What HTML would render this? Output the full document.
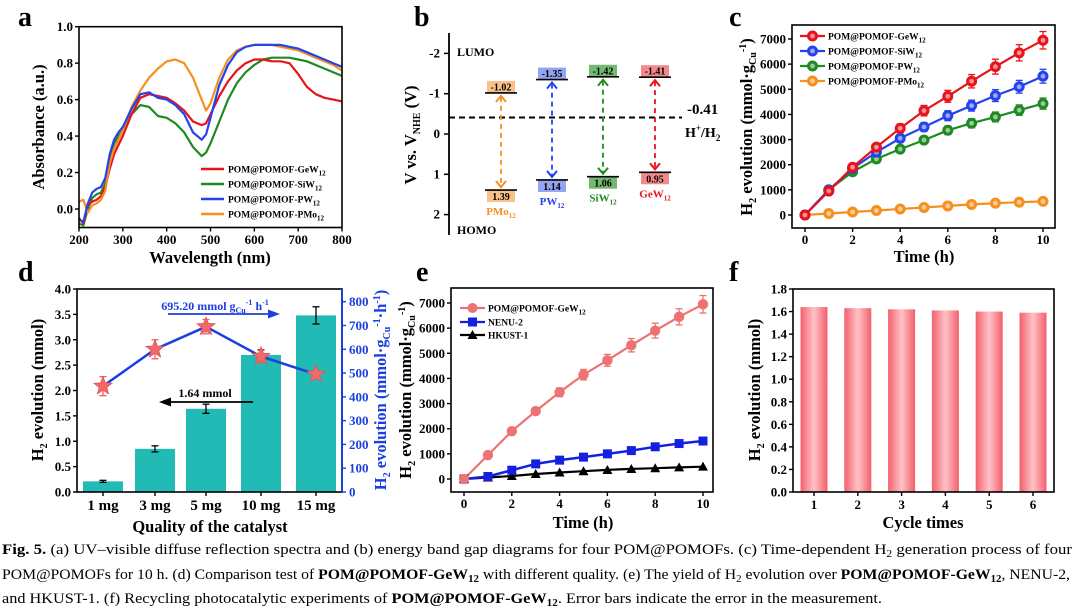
<!DOCTYPE html>
<html><head><meta charset="utf-8"><title>Fig 5</title>
<style>
html,body{margin:0;padding:0;background:#fff;}
svg{display:block;font-family:"Liberation Serif",serif;}
.t{font-weight:bold;font-size:13px;}
.ti{font-weight:bold;font-size:16.5px;}
.pl{font-weight:bold;font-size:28px;}
.lg{font-weight:bold;font-size:9.5px;}
.cap{font-size:14.5px;}
</style></head>
<body>
<svg id="fig" width="1080" height="615" viewBox="0 0 1080 615">
<defs>
<linearGradient id="pinkg" x1="0" x2="1" y1="0" y2="0">
<stop offset="0" stop-color="#f2606b"/><stop offset="0.5" stop-color="#ffc2c7"/><stop offset="1" stop-color="#f2606b"/>
</linearGradient>
</defs>
<text class="pl" x="18" y="26">a</text>
<text class="pl" x="414" y="26">b</text>
<text class="pl" x="729" y="26">c</text>
<text class="pl" x="18" y="281">d</text>
<text class="pl" x="416" y="281">e</text>
<text class="pl" x="729" y="281">f</text>

<text class="ti" transform="translate(44,127) rotate(-90)" text-anchor="middle">Absorbance (a.u.)</text>
<text class="ti" x="210" y="263" text-anchor="middle">Wavelength (nm)</text>
<text class="ti" transform="translate(416,135) rotate(-90)" text-anchor="middle">V vs. V<tspan font-size="10" dy="4">NHE</tspan><tspan dy="-4"> (V)</tspan></text>
<text class="ti" transform="translate(752,127) rotate(-90)" text-anchor="middle">H<tspan font-size="10" dy="4">2</tspan><tspan dy="-4"> evolution (mmol·g</tspan><tspan font-size="10" dy="4">Cu</tspan><tspan font-size="10" dy="-10">-1</tspan><tspan dy="6">)</tspan></text>
<text class="ti" x="924" y="262" text-anchor="middle">Time (h)</text>
<text class="ti" transform="translate(43,390) rotate(-90)" text-anchor="middle">H<tspan font-size="10" dy="4">2</tspan><tspan dy="-4"> evolution (mmol)</tspan></text>
<text class="ti" transform="translate(386,390) rotate(-90)" text-anchor="middle" fill="#1c3fe0">H<tspan font-size="10" dy="4">2</tspan><tspan dy="-4"> evolution (mmol·g</tspan><tspan font-size="10" dy="4">Cu</tspan><tspan font-size="10" dy="-10">-1</tspan><tspan dy="6">·h</tspan><tspan font-size="10" dy="-6">-1</tspan><tspan dy="6">)</tspan></text>
<text class="ti" x="210" y="532" text-anchor="middle">Quality of the catalyst</text>
<text class="ti" transform="translate(411,390) rotate(-90)" text-anchor="middle">H<tspan font-size="10" dy="4">2</tspan><tspan dy="-4"> evolution (mmol·g</tspan><tspan font-size="10" dy="4">Cu</tspan><tspan font-size="10" dy="-10">-1</tspan><tspan dy="6">)</tspan></text>
<text class="ti" x="583" y="528" text-anchor="middle">Time (h)</text>
<text class="ti" transform="translate(760,390) rotate(-90)" text-anchor="middle">H<tspan font-size="10" dy="4">2</tspan><tspan dy="-4"> evolution (mmol)</tspan></text>
<text class="ti" x="923" y="528" text-anchor="middle">Cycle times</text>

<text class="t" x="687" y="114" style="font-size:15px">-0.41</text>
<text class="t" x="685" y="137" style="font-size:14px">H<tspan font-size="9" dy="-6">+</tspan><tspan dy="6">/H</tspan><tspan font-size="9" dy="4">2</tspan></text>
<text class="t" x="457" y="56" style="font-size:12px">LUMO</text>
<text class="t" x="457" y="234" style="font-size:12px">HOMO</text>
<text class="t" x="215" y="310" text-anchor="middle" fill="#1c3fe0" style="font-size:12px">695.20 mmol g<tspan font-size="8" dy="3">Cu</tspan><tspan font-size="8" dy="-8">-1</tspan><tspan dy="5"> h</tspan><tspan font-size="8" dy="-5">-1</tspan></text>
<text class="t" x="205" y="397" text-anchor="middle" style="font-size:12px">1.64 mmol</text>

<g>
<text class="cap" x="2" y="554" textLength="1070" lengthAdjust="spacingAndGlyphs"><tspan font-weight="bold">Fig. 5.</tspan> (a) UV–visible diffuse reflection spectra and (b) energy band gap diagrams for four POM@POMOFs. (c) Time-dependent H<tspan font-size="10" dy="3">2</tspan><tspan dy="-3"> generation process of four</tspan></text>
<text class="cap" x="2" y="579" textLength="1068" lengthAdjust="spacingAndGlyphs">POM@POMOFs for 10 h. (d) Comparison test of <tspan font-weight="bold">POM@POMOF-GeW</tspan><tspan font-weight="bold" font-size="10" dy="3">12</tspan><tspan dy="-3"> with different quality. (e) The yield of H</tspan><tspan font-size="10" dy="3">2</tspan><tspan dy="-3"> evolution over </tspan><tspan font-weight="bold">POM@POMOF-GeW</tspan><tspan font-weight="bold" font-size="10" dy="3">12</tspan><tspan dy="-3">, NENU-2,</tspan></text>
<text class="cap" x="2" y="603" textLength="880" lengthAdjust="spacingAndGlyphs">and HKUST-1. (f) Recycling photocatalytic experiments of <tspan font-weight="bold">POM@POMOF-GeW</tspan><tspan font-weight="bold" font-size="10" dy="3">12</tspan><tspan dy="-3">. Error bars indicate the error in the measurement.</tspan></text>
</g>
</svg>
<script>
const aWavelengths=[200,210,220,230,240,250,260,270,280,290,300,320,340,360,380,400,420,440,460,480,490,500,520,540,560,580,600,620,640,660,680,700,720,740,760,780,800];
const aGeW=[-0.05,-0.08,0.02,0.04,0.05,0.07,0.12,0.22,0.30,0.35,0.40,0.52,0.61,0.63,0.62,0.61,0.58,0.54,0.48,0.46,0.47,0.52,0.62,0.70,0.76,0.80,0.82,0.82,0.81,0.81,0.80,0.74,0.67,0.63,0.61,0.60,0.59];
const aSiW=[-0.08,-0.09,0.0,0.06,0.08,0.09,0.14,0.27,0.36,0.40,0.43,0.52,0.57,0.56,0.51,0.50,0.47,0.42,0.34,0.29,0.31,0.36,0.48,0.60,0.69,0.75,0.79,0.82,0.83,0.83,0.83,0.82,0.81,0.79,0.77,0.75,0.73];
const aPW=[-0.06,-0.07,0.03,0.09,0.11,0.12,0.17,0.30,0.38,0.42,0.45,0.55,0.63,0.64,0.61,0.60,0.57,0.52,0.42,0.38,0.41,0.50,0.68,0.79,0.86,0.89,0.90,0.90,0.90,0.90,0.89,0.88,0.86,0.84,0.82,0.80,0.78];
const aPMo=[0.04,0.05,-0.02,0.02,0.03,0.05,0.10,0.25,0.33,0.38,0.43,0.56,0.65,0.72,0.77,0.81,0.82,0.80,0.72,0.60,0.54,0.58,0.72,0.82,0.87,0.89,0.90,0.90,0.90,0.89,0.88,0.87,0.85,0.83,0.81,0.79,0.76];
const aXTicks=[200,300,400,500,600,700,800];
const aYTicks=[0,0.2,0.4,0.6,0.8,1.0];

const bNames=["PMo","PW","SiW","GeW"];
const bLumo=[-1.02,-1.35,-1.42,-1.41];
const bHomo=[1.39,1.14,1.06,0.95];
const bTicks=[-2,-1,0,1,2];
const bH2=-0.41;

const cTimes=[0,1,2,3,4,5,6,7,8,9,10];
const cGeW=[0,950,1900,2700,3450,4150,4720,5320,5900,6450,6950];
const cSiW=[0,1000,1850,2500,3050,3500,3950,4350,4750,5100,5520];
const cPW=[0,1000,1720,2230,2620,2980,3370,3650,3900,4170,4430];
const cPMo=[0,60,120,180,240,300,360,420,470,510,540];
const cXTicks=[0,2,4,6,8,10];
const cYTicks=[0,1000,2000,3000,4000,5000,6000,7000];

const dCats=["1 mg","3 mg","5 mg","10 mg","15 mg"];
const dAmount=[0.21,0.85,1.64,2.70,3.48];
const dAmountErr=[0.02,0.06,0.09,0.10,0.17];
const dRate=[445,600,695,570,495];
const dRateErr=[40,40,30,25,10];
const dLeftTicks=[0,0.5,1.0,1.5,2.0,2.5,3.0,3.5,4.0];
const dRightTicks=[0,100,200,300,400,500,600,700,800];

const eTimes=[0,1,2,3,4,5,6,7,8,9,10];
const eGeW=[0,950,1900,2700,3450,4150,4720,5320,5900,6450,6950];
const eNENU=[0,100,350,600,750,870,1000,1130,1280,1410,1510];
const eHKUST=[0,60,120,200,260,310,360,400,430,460,490];

const fCycles=["1","2","3","4","5","6"];
const fAmount=[1.64,1.63,1.62,1.61,1.60,1.59];
const fYTicks=[0,0.2,0.4,0.6,0.8,1.0,1.2,1.4,1.6,1.8];

const NS='http://www.w3.org/2000/svg';
const svg=document.getElementById('fig');
function mk(parent,tag,attrs,name){
  const el=document.createElementNS(NS,tag);
  for(const k in attrs) el.setAttribute(k,attrs[k]);
  
  
  parent.appendChild(el);return el;
}
function lin(d0,d1,r0,r1){return v=>r0+(v-d0)/(d1-d0)*(r1-r0);}
function grp(name){return mk(svg,'g',{},name);}
function frame(g,x0,y0,x1,y1,name){mk(g,'rect',{x:x0,y:y0,width:x1-x0,height:y1-y0,fill:'none',stroke:'#000','stroke-width':1.6},name);}
function tickLabel(g,x,y,s,anchor,name,fill){const t=mk(g,'text',{x:x,y:y,'text-anchor':anchor,class:'t',fill:fill||'#000'},name);t.textContent=s;return t;}
function yAxisTicks(g,ticks,ys,x,name,fmt,side,fill){
  ticks.forEach(v=>{const y=ys(v);
    mk(g,'line',{x1:x,x2:x+(side>0?4:-4),y1:y,y2:y,stroke:fill||'#000','stroke-width':1.4},name+'-tick');
    tickLabel(g,side>0?x+7:x-6,y+4.5,fmt(v),side>0?'start':'end',name+'-label',fill);});
}
function xAxisTicks(g,ticks,xs,y,name,fmt,ly){
  ticks.forEach(v=>{const x=xs(v);
    mk(g,'line',{x1:x,x2:x,y1:y,y2:y+4,stroke:'#000','stroke-width':1.4},name+'-tick');
    tickLabel(g,x,ly,fmt(v),'middle',name+'-label');});
}
function poly(g,xs,ys,X,Y,color,w,name,dash){
  const pts=X.map((x,i)=>xs(x).toFixed(1)+','+ys(Y[i]).toFixed(1)).join(' ');
  const a={points:pts,fill:'none',stroke:color,'stroke-width':w,'stroke-linejoin':'round'};
  if(dash)a['stroke-dasharray']=dash;
  return mk(g,'polyline',a,name);
}
function errBar(g,x,y0,y1,color,name){
  mk(g,'line',{x1:x,x2:x,y1:y0,y2:y1,stroke:color,'stroke-width':1.3},name);
  mk(g,'line',{x1:x-3.5,x2:x+3.5,y1:y0,y2:y0,stroke:color,'stroke-width':1.3},name+'-cap');
  mk(g,'line',{x1:x-3.5,x2:x+3.5,y1:y1,y2:y1,stroke:color,'stroke-width':1.3},name+'-cap');
}
function ring(g,x,y,color,name){
  mk(g,'circle',{cx:x,cy:y,r:5,fill:color,stroke:color,'stroke-width':1},name);
  mk(g,'circle',{cx:x,cy:y,r:2.4,fill:'#fff','fill-opacity':0.55},name+'-highlight');
}

(function(){
  const g=grp('panel-a');
  const xs=lin(200,800,79,342), ys=lin(0,1,209,26.7);
  const series=[[aGeW,'#e8131b','gew'],[aSiW,'#1f8a22','siw'],[aPW,'#2443ef','pw'],[aPMo,'#f5901f','pmo']];
  const cp=mk(g,'clipPath',{id:'clipA'},'a-clip');
  mk(cp,'rect',{x:79,y:26.7,width:263,height:201},'a-clip-rect');
  const lg=mk(g,'g',{'clip-path':'url(#clipA)'},'a-lines');
  [series[1],series[0],series[3],series[2]].forEach(s=>poly(lg,xs,ys,aWavelengths,s[0],s[1],2.2,'a-line-'+s[2]));
  frame(g,79,26.7,342,227.5,'a-plot-frame');
  yAxisTicks(g,aYTicks,ys,79,'a-y',v=>v.toFixed(1),-1);
  xAxisTicks(g,aXTicks,xs,227.5,'a-x',v=>String(v),244);
  const names=['POM@POMOF-GeW','POM@POMOF-SiW','POM@POMOF-PW','POM@POMOF-PMo'];
  const cols=['#e8131b','#1f8a22','#2443ef','#f5901f'];
  [169,184,199,214].forEach((y,i)=>{
    mk(g,'line',{x1:201,x2:224,y1:y,y2:y,stroke:cols[i],'stroke-width':2.5},'a-legend-swatch');
    const t=mk(g,'text',{x:228,y:y+3.5,class:'lg'},'a-legend-entry');
    t.innerHTML=names[i]+'<tspan font-size="7" dy="3">12</tspan>';
  });
})();

(function(){
  const g=grp('panel-b');
  const ys=lin(0,1,134,174.3);
  mk(g,'line',{x1:449,x2:449,y1:33,y2:235,stroke:'#000','stroke-width':1.8},'b-y-axis');
  bTicks.forEach(v=>{const y=ys(v);
    mk(g,'line',{x1:449,x2:444,y1:y,y2:y,stroke:'#000','stroke-width':1.5},'b-y-tick');
    tickLabel(g,440,y+4,String(v),'end','b-y-tick-label');});
  mk(g,'line',{x1:449,x2:682,y1:ys(bH2),y2:ys(bH2),stroke:'#000','stroke-width':2,'stroke-dasharray':'6,4'},'b-h2-level-line');
  const cx=[501,552,603,655];
  const line=['#f5901f','#2443ef','#1f8a22','#e8131b'];
  const box=['#f9c189','#93a4f2','#73b873','#f28a8a'];
  bNames.forEach((n,i)=>{
    const yl=ys(bLumo[i]), yh=ys(bHomo[i]), x=cx[i];
    mk(g,'rect',{x:x-14,y:yl-12,width:28,height:12,fill:box[i]},'b-lumo-box-'+n);
    tickLabel(g,x,yl-2.5,bLumo[i].toFixed(2),'middle','b-lumo-value-'+n).setAttribute('style','font-size:10px');
    mk(g,'line',{x1:x-16,x2:x+16,y1:yl,y2:yl,stroke:'#000','stroke-width':1.6},'b-lumo-level-'+n);
    mk(g,'rect',{x:x-14,y:yh,width:28,height:12,fill:box[i]},'b-homo-box-'+n);
    tickLabel(g,x,yh+10,bHomo[i].toFixed(2),'middle','b-homo-value-'+n).setAttribute('style','font-size:10px');
    mk(g,'line',{x1:x-16,x2:x+16,y1:yh,y2:yh,stroke:'#000','stroke-width':1.6},'b-homo-level-'+n);
    mk(g,'line',{x1:x,x2:x,y1:yl+4,y2:yh-4,stroke:line[i],'stroke-width':1.8,'stroke-dasharray':'5,4'},'b-transition-arrow-'+n);
    mk(g,'polyline',{points:(x-5)+','+(yl+9)+' '+x+','+(yl+3)+' '+(x+5)+','+(yl+9),fill:'none',stroke:line[i],'stroke-width':2},'b-arrowhead-up-'+n);
    mk(g,'polyline',{points:(x-5)+','+(yh-9)+' '+x+','+(yh-3)+' '+(x+5)+','+(yh-9),fill:'none',stroke:line[i],'stroke-width':2},'b-arrowhead-down-'+n);
    const t=mk(g,'text',{x:x,y:yh+25,'text-anchor':'middle',class:'t',fill:line[i]},'b-category-label-'+n);
    t.setAttribute('style','font-size:11px');
    t.innerHTML=n+'<tspan font-size="7" dy="3">12</tspan>';
  });
})();

(function(){
  const g=grp('panel-c');
  const xs=lin(0,10,805,1043), ys=lin(0,7000,215,39);
  frame(g,792,25,1055,228,'c-plot-frame');
  yAxisTicks(g,cYTicks,ys,792,'c-y',v=>String(v),-1);
  xAxisTicks(g,cXTicks,xs,228,'c-x',v=>String(v),244);
  const series=[[cPMo,'#f5901f','pmo'],[cPW,'#1f8a22','pw'],[cSiW,'#2443ef','siw'],[cGeW,'#e8131b','gew']];
  series.forEach(s=>{
    poly(g,xs,ys,cTimes,s[0],s[1],2.2,'c-line-'+s[2]);
    cTimes.forEach((t,i)=>{const v=s[0][i];const e=v*0.05;
      if(e>30) errBar(g,xs(t),ys(v+e),ys(v-e),s[1],'c-error-bar-'+s[2]);
      ring(g,xs(t),ys(v),s[1],'c-marker-'+s[2]);});
  });
  const names=['POM@POMOF-GeW','POM@POMOF-SiW','POM@POMOF-PW','POM@POMOF-PMo'];
  const cols=['#e8131b','#2443ef','#1f8a22','#f5901f'];
  [36,51,66,81].forEach((y,i)=>{
    mk(g,'line',{x1:800,x2:825,y1:y,y2:y,stroke:cols[i],'stroke-width':2.2},'c-legend-swatch');
    ring(g,812.5,y,cols[i],'c-legend-marker');
    const t=mk(g,'text',{x:828,y:y+3.5,class:'lg'},'c-legend-entry');
    t.innerHTML=names[i]+'<tspan font-size="7" dy="3">12</tspan>';
  });
})();

(function(){
  const g=grp('panel-d');
  const ys=lin(0,4,492,289), yr=lin(0,800,492,301.7);
  const cx=[103,155,206,261,316];
  dCats.forEach((c,i)=>{
    mk(g,'rect',{x:cx[i]-20,y:ys(dAmount[i]),width:40,height:492-ys(dAmount[i]),fill:'#22bab5'},'d-bar-'+i);
    errBar(g,cx[i],ys(dAmount[i]+dAmountErr[i]),ys(dAmount[i]-dAmountErr[i]),'#000','d-bar-error-'+i);
    mk(g,'line',{x1:cx[i],x2:cx[i],y1:492,y2:496,stroke:'#000','stroke-width':1.4},'d-x-tick');
    const t=tickLabel(g,cx[i],510,c,'middle','d-x-tick-label');t.setAttribute('style','font-size:15px');
  });
  poly(g,i=>cx[i],yr,[0,1,2,3,4],dRate,'#1c3fe0',2.5,'d-rate-line');
  dRate.forEach((v,i)=>{
    errBar(g,cx[i],yr(v+dRateErr[i]),yr(v-dRateErr[i]),'#f06060','d-rate-error-'+i);
    let pts=[];for(let k=0;k<10;k++){const r=k%2?4:9.5;const a=-Math.PI/2+k*Math.PI/5;pts.push((cx[i]+r*Math.cos(a)).toFixed(1)+','+(yr(v)+r*Math.sin(a)).toFixed(1));}
    mk(g,'polygon',{points:pts.join(' '),fill:'#f06a6a',stroke:'#e05555','stroke-width':0.8},'d-rate-star-'+i);
  });
  mk(g,'rect',{x:77,y:289,width:265,height:203,fill:'none',stroke:'#000','stroke-width':1.6},'d-plot-frame');
  mk(g,'line',{x1:342,x2:342,y1:289,y2:492,stroke:'#1c3fe0','stroke-width':2},'d-right-axis');
  yAxisTicks(g,dLeftTicks,ys,77,'d-y',v=>v.toFixed(1),-1);
  yAxisTicks(g,dRightTicks,yr,342,'d-right-y',v=>String(v),1,'#1c3fe0');
  mk(g,'line',{x1:168,x2:270,y1:314,y2:314,stroke:'#1c3fe0','stroke-width':1.8},'d-rate-arrow');
  mk(g,'polygon',{points:'280,314 268,309.5 268,318.5',fill:'#1c3fe0'},'d-rate-arrowhead');
  mk(g,'line',{x1:253,x2:170,y1:402,y2:402,stroke:'#000','stroke-width':1.8},'d-amount-arrow');
  mk(g,'polygon',{points:'159,402 171,397.5 171,406.5',fill:'#000'},'d-amount-arrowhead');
})();

(function(){
  const g=grp('panel-e');
  const xs=lin(0,10,464,703), ys=lin(0,7000,479,303);
  frame(g,451,288,713,492,'e-plot-frame');
  yAxisTicks(g,cYTicks,ys,451,'e-y',v=>String(v),-1);
  xAxisTicks(g,cXTicks,xs,492,'e-x',v=>String(v),508);
  poly(g,xs,ys,eTimes,eHKUST,'#000',2.2,'e-line-hkust');
  poly(g,xs,ys,eTimes,eNENU,'#1420e0',2.5,'e-line-nenu',null);
  poly(g,xs,ys,eTimes,eGeW,'#ee7272',2.2,'e-line-gew');
  eTimes.forEach((t,i)=>{
    const x=xs(t);
    let y=ys(eHKUST[i]);
    mk(g,'polygon',{points:(x-5)+','+(y+4)+' '+(x+5)+','+(y+4)+' '+x+','+(y-5)},'e-marker-hkust');
    y=ys(eNENU[i]);
    const e=eNENU[i]*0.06; if(e>20) errBar(g,x,ys(eNENU[i]+e),ys(eNENU[i]-e),'#1420e0','e-error-bar-nenu');
    mk(g,'rect',{x:x-4.5,y:y-4.5,width:9,height:9,fill:'#1420e0'},'e-marker-nenu');
    const v=eGeW[i], eg=v*0.05;
    if(eg>30) errBar(g,x,ys(v+eg),ys(v-eg),'#ee7272','e-error-bar-gew');
    mk(g,'circle',{cx:x,cy:ys(v),r:5.2,fill:'#ee7272'},'e-marker-gew');
  });
  mk(g,'line',{x1:460,x2:485,y1:308,y2:308,stroke:'#ee7272','stroke-width':2.2},'e-legend-swatch-gew');
  mk(g,'circle',{cx:472.5,cy:308,r:5,fill:'#ee7272'},'e-legend-marker-gew');
  let t=mk(g,'text',{x:488,y:311.5,class:'lg'},'e-legend-entry-gew');
  t.innerHTML='POM@POMOF-GeW<tspan font-size="7" dy="3">12</tspan>';
  mk(g,'line',{x1:460,x2:485,y1:322,y2:322,stroke:'#1420e0','stroke-width':2.2},'e-legend-swatch-nenu');
  mk(g,'rect',{x:468,y:317.5,width:9,height:9,fill:'#1420e0'},'e-legend-marker-nenu');
  t=mk(g,'text',{x:488,y:325.5,class:'lg'},'e-legend-entry-nenu');t.textContent='NENU-2';
  mk(g,'line',{x1:460,x2:485,y1:335,y2:335,stroke:'#000','stroke-width':2.2},'e-legend-swatch-hkust');
  mk(g,'polygon',{points:'467.5,339 477.5,339 472.5,330'},'e-legend-marker-hkust');
  t=mk(g,'text',{x:488,y:338.5,class:'lg'},'e-legend-entry-hkust');t.textContent='HKUST-1';
})();

(function(){
  const g=grp('panel-f');
  const ys=lin(0,1.8,492,289);
  const xs=i=>814+i*43.8;
  fCycles.forEach((c,i)=>{
    mk(g,'rect',{x:xs(i)-13.5,y:ys(fAmount[i]),width:27,height:492-ys(fAmount[i]),fill:'url(#pinkg)'},'f-bar-'+c);
    mk(g,'line',{x1:xs(i),x2:xs(i),y1:492,y2:496,stroke:'#000','stroke-width':1.4},'f-x-tick');
    tickLabel(g,xs(i),509,c,'middle','f-x-tick-label');
  });
  frame(g,793,289,1054,492,'f-plot-frame');
  yAxisTicks(g,fYTicks,ys,793,'f-y',v=>v.toFixed(1),-1);
})();
</script>
</body></html>
